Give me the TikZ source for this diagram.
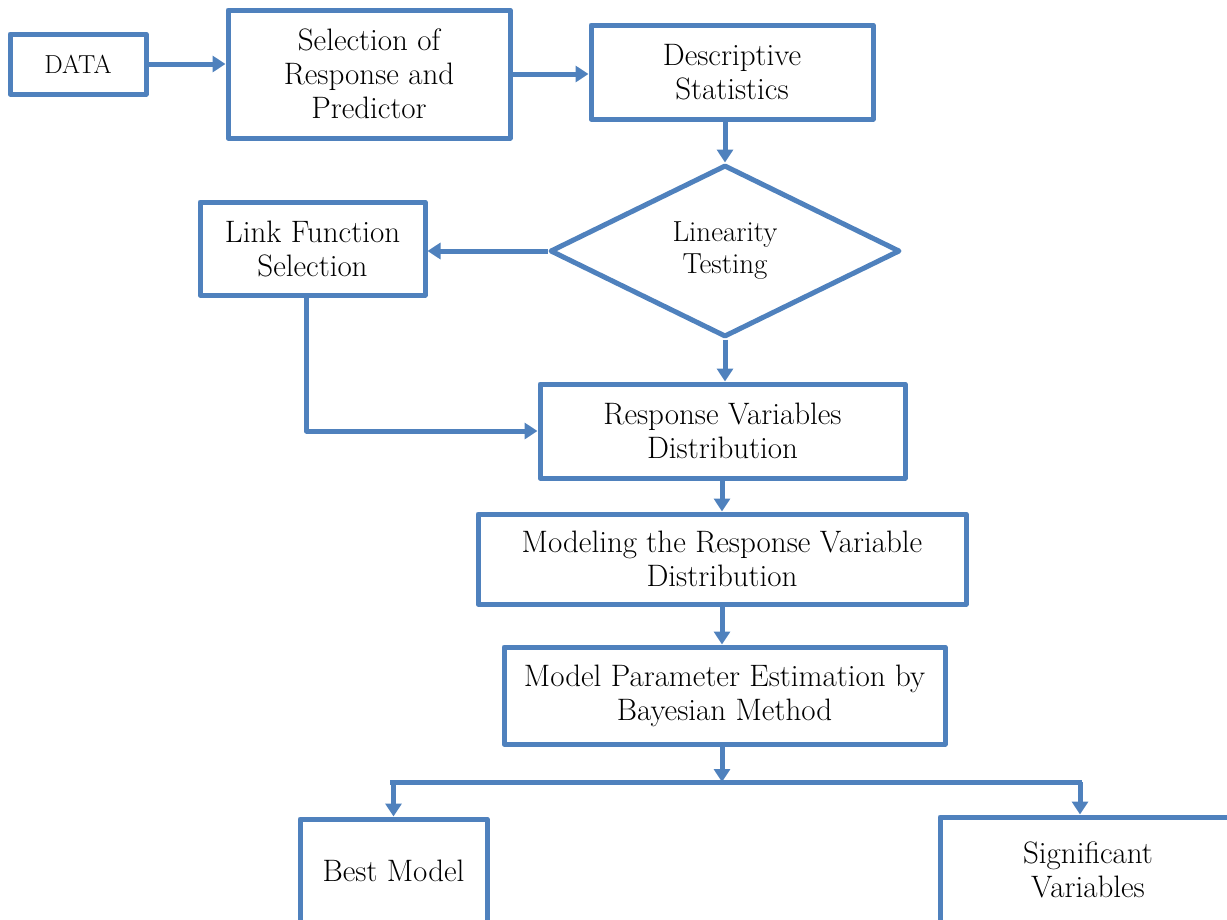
\documentclass[tikz,border=0pt]{standalone}
\usepackage{fontspec}
\usepackage{tikz}
\usetikzlibrary{arrows.meta,shapes.geometric}
\usetikzlibrary{positioning}
\usetikzlibrary{calc}
\definecolor{flowblue}{HTML}{4F81BD}
\tikzset{
    box/.style={draw=flowblue, line width=5pt, fill=white, align=center,
        inner sep=0pt, font=\fontsize{31}{34}\selectfont},
    decision/.style={draw=flowblue, line width=5pt, diamond, fill=white,
        inner sep=0pt, align=center, font=\fontsize{29}{32}\selectfont},
    flow/.style={draw=flowblue, line width=5pt,
        -{Triangle[length=13pt,width=16pt]}},
    busline/.style={draw=flowblue, line width=5pt},
}

\begin{document}
\begin{tikzpicture}[x=1pt, y=-1pt, line join=round]
	\clip (0,0) rectangle (1227,919);
	\node[box, minimum width=136pt, minimum height=60pt,
		font=\fontsize{26}{29}\selectfont] (data) at (78,64) {DATA};
	\node[box, minimum width=282pt, minimum height=128pt] (select) at (369,74)
		{Selection of\\Response and\\Predictor};
	\node[box, minimum width=282pt, minimum height=94pt] (descr) at (732,72)
		{Descriptive\\Statistics};
	\node[decision, minimum width=350pt, minimum height=172pt] (linear) at (725,251)
		{Linearity\\Testing};
	\node[box, minimum width=225pt, minimum height=93pt] (link) at (312.5,248.5)
		{Link Function\\Selection};
	\node[box, minimum width=365pt, minimum height=94pt] (resp) at (722.5,431)
		{Response Variables\\Distribution};
	\node[box, minimum width=488pt, minimum height=90pt] (model) at (722,559)
		{Modeling the Response Variable\\Distribution};
	\node[box, minimum width=441pt, minimum height=97pt] (estim) at (724.5,695.5)
		{Model Parameter Estimation by\\Bayesian Method};
	\node[box, minimum width=187pt, minimum height=104pt] (best) at (393.5,871)
		{Best Model};
	\node[box, minimum width=296pt, minimum height=106pt] (signif) at (1088,870)
		{Significant\\Variables};
	\coordinate (busL) at (390,782);
	\coordinate (busR) at (1082,782);

	\draw[flow] (data.east) -- (data.east -| select.west);
	\draw[flow] (select.east) -- (select.east -| descr.west);
	\draw[flow] (linear.north |- descr.south) -- (linear.north);
	\draw[flow] (linear.west) -- (linear.west -| link.east);
	\draw[flow] (linear.south) -- (linear.south |- resp.north);
	\draw[flow] ([xshift=-6pt]link.south) |- (resp.west);
	\draw[flow] (resp.south -| model.north) -- (model.north);
	\draw[flow] (model.south) -- (model.south |- estim.north);
	\draw[flow] (estim.south -| model.south) -- (model.south |- busL);
	\draw[busline] (busL) -- (busR);
	\draw[flow] (best.north |- busL) -- (best.north);
	\draw[flow] ([xshift=-8pt]signif.north |- busR) -- ([xshift=-8pt]signif.north);
\end{tikzpicture}
\end{document}
